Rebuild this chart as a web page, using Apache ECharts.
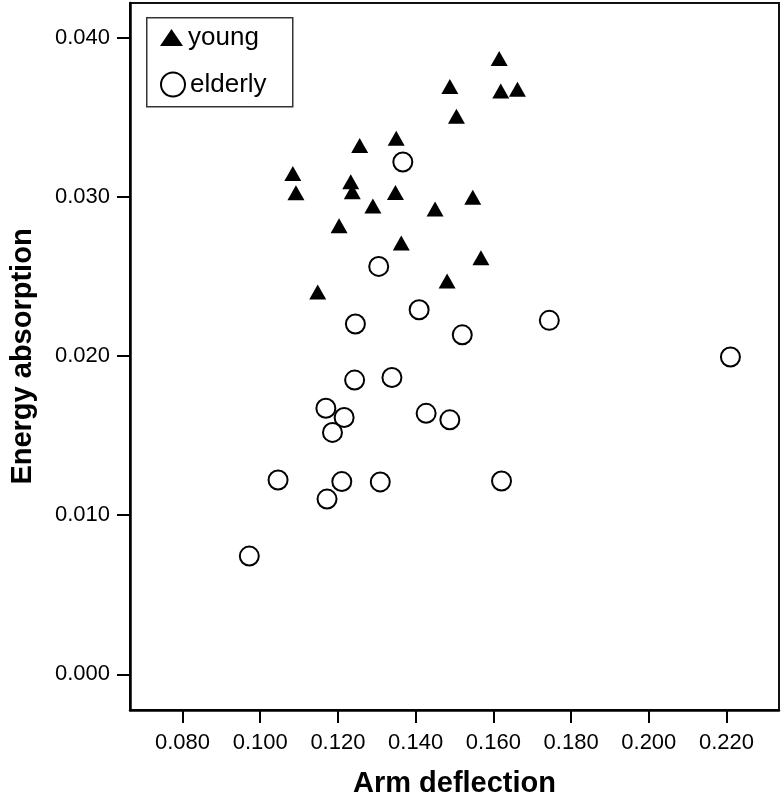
<!DOCTYPE html>
<html>
<head>
<meta charset="utf-8">
<script src="https://cdn.jsdelivr.net/npm/echarts@6/dist/echarts.min.js"></script>
<style>
html,body{margin:0;padding:0;background:#fff;}
#chart{width:782px;height:803px;}
</style>
</head>
<body>
<div id="chart"></div>
<script>
// Arm deflection (x) and Energy absorption (y)
var youngX = [0.1615, 0.1488, 0.1619, 0.1662, 0.1505, 0.1350, 0.1256, 0.1233, 0.1237, 0.1348,
              0.1290, 0.1450, 0.1547, 0.1203, 0.1363, 0.1568, 0.1481, 0.1148, 0.1084, 0.1092];
var youngY = [0.0387, 0.03693, 0.03665, 0.03676, 0.03506, 0.03369, 0.03323, 0.03095, 0.03032, 0.03028,
              0.02943, 0.02924, 0.02997, 0.02818, 0.02710, 0.02617, 0.02472, 0.02403, 0.03146, 0.03026];
var elderlyX = [0.1367, 0.1305, 0.1409, 0.1744, 0.1245, 0.1520, 0.1243, 0.1339, 0.1169, 0.1216,
                0.1186, 0.1427, 0.1488, 0.1046, 0.1210, 0.1309, 0.1172, 0.0972, 0.2210, 0.1621];
var elderlyY = [0.03219, 0.02563, 0.02291, 0.02224, 0.02201, 0.02133, 0.01849, 0.01865, 0.01672, 0.01614,
                0.01520, 0.01640, 0.01599, 0.01221, 0.01211, 0.01209, 0.01101, 0.00743, 0.01994, 0.01215];
var xTicks = [0.08, 0.10, 0.12, 0.14, 0.16, 0.18, 0.20, 0.22];
var yTicks = [0.000, 0.010, 0.020, 0.030, 0.040];
var seriesNames = ['young', 'elderly'];
var xTitle = 'Arm deflection';
var yTitle = 'Energy absorption';

function pairs(xs, ys) { return xs.map(function (x, i) { return [x, ys[i]]; }); }

var FONT = '"Liberation Sans", Arial, sans-serif';
var chart = echarts.init(document.getElementById('chart'), null, {renderer: 'canvas'});
var option = {
  animation: false,
  backgroundColor: '#fff',
  grid: {left: 124, right: 3, top: 3, bottom: 87, show: true, borderColor: '#111', borderWidth: 2, backgroundColor: 'transparent'},
  xAxis: {
    type: 'value', min: 0.0665, max: 0.2335,
    name: xTitle, nameLocation: 'middle', nameGap: 59,
    nameTextStyle: {fontFamily: FONT, fontWeight: 'bold', fontSize: 29, color: '#000'},
    axisLine: {show: true, onZero: false, lineStyle: {color: '#000', width: 2.5}},
    axisTick: {show: true, customValues: xTicks, length: 13, lineStyle: {color: '#000', width: 2}},
    axisLabel: {customValues: xTicks, margin: 22, fontFamily: FONT, fontSize: 22, color: '#000',
      formatter: function (v) { return v.toFixed(3); }},
    splitLine: {show: false}
  },
  yAxis: {
    type: 'value', min: -0.00224, max: 0.04218,
    name: yTitle, nameLocation: 'middle', nameGap: 93, nameRotate: 90,
    nameTextStyle: {fontFamily: FONT, fontWeight: 'bold', fontSize: 29, color: '#000'},
    axisLine: {show: true, onZero: false, lineStyle: {color: '#000', width: 2.5}},
    axisTick: {show: true, customValues: yTicks, length: 13, lineStyle: {color: '#000', width: 2}},
    axisLabel: {customValues: yTicks, margin: 20, fontFamily: FONT, fontSize: 22, color: '#000',
      formatter: function (v) { return v.toFixed(3); }},
    splitLine: {show: false}
  },
  graphic: [{
    type: 'rect', left: 146, top: 17, z: 100,
    shape: {width: 146, height: 89},
    style: {fill: 'transparent', stroke: '#333', lineWidth: 1.5}
  }],
  legend: [{
    data: [seriesNames[0]], left: 160, top: 24, padding: 0,
    itemWidth: 23, itemHeight: 17, itemGap: 0, itemTextGap: 15,
    textStyle: {fontFamily: FONT, fontSize: 26, color: '#000', lineHeight: 27}
  }, {
    data: [seriesNames[1]], left: 160, top: 71, padding: 0,
    itemWidth: 24, itemHeight: 24, itemGap: 0, itemTextGap: 14,
    textStyle: {fontFamily: FONT, fontSize: 26, color: '#000', lineHeight: 27}
  }],
  series: [{
    name: seriesNames[0], type: 'scatter', symbol: 'triangle', symbolSize: [17, 15],
    itemStyle: {color: '#000', opacity: 1},
    data: pairs(youngX, youngY), z: 3
  }, {
    name: seriesNames[1], type: 'scatter', symbol: 'circle', symbolSize: 19,
    itemStyle: {color: '#fff', borderColor: '#000', borderWidth: 2, opacity: 1},
    data: pairs(elderlyX, elderlyY), z: 2
  }]
};
chart.setOption(option);
</script>
</body>
</html>
